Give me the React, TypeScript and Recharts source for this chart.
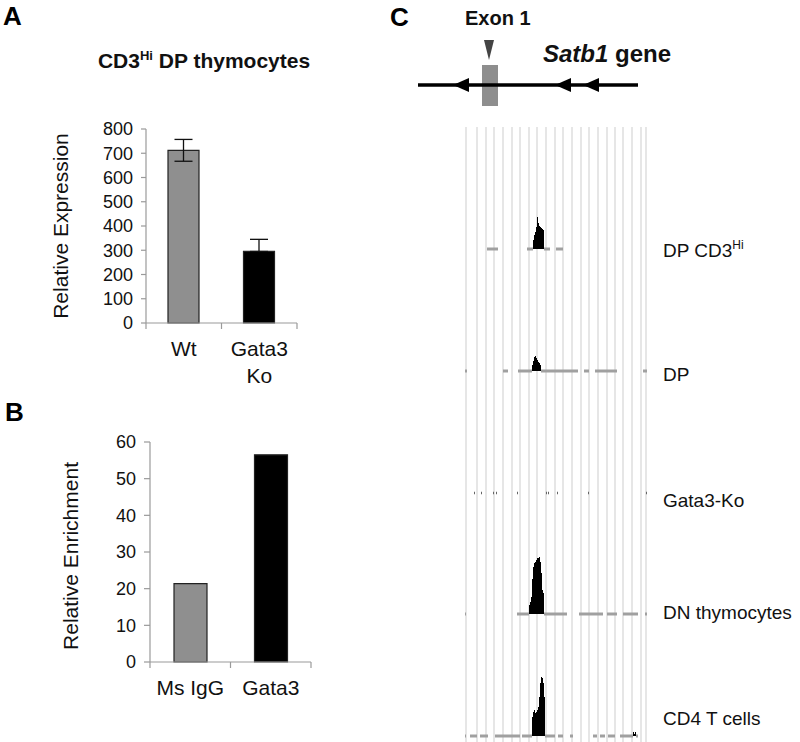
import {
  Area,
  Bar,
  BarChart,
  CartesianGrid,
  Cell,
  ComposedChart,
  ErrorBar,
  ReferenceArea,
  ReferenceLine,
  Scatter,
  XAxis,
  YAxis,
} from 'recharts'

const FONT = '"Liberation Sans", Arial, Helvetica, sans-serif'
const AXIS_GREY = '#9a9a9a'
const TEXT = '#111'

// Panel A: Satb1 expression in CD3hi DP thymocytes
const exprGroups = ['Wt', 'Gata3\nKo']
const exprValues = [712, 295]
const exprErrLow = [45, 0]
const exprErrHigh = [45, 50]
const exprTicks = [0, 100, 200, 300, 400, 500, 600, 700, 800]

// Panel B: Gata3 ChIP enrichment
const chipGroups = ['Ms IgG', 'Gata3']
const chipValues = [21.4, 56.5]
const chipTicks = [0, 10, 20, 30, 40, 50, 60]

const groupFills = ['#8f8f8f', '#000000']
// bars sit in the middle of each slot, tick marks go on the slot edges
const slotTicks = [0, 0.5, 1, 1.5, 2]

// Panel C: gene model (positions in the same units as the tracks)
const geneSpan = [-47, 173]
const exonSpan = [17, 33]
const exonMarker = [{ x: 24, y: 60 }]
const strandArrows = [
  { x: -12, y: 25 },
  { x: 90, y: 25 },
  { x: 118, y: 25 },
]

// Panel C: ChIP-seq tracks
const trackNames = ['DP CD3', 'DP', 'Gata3-Ko', 'DN thymocytes', 'CD4 T cells']
const trackSup = ['Hi', '', '', '', '']
const stripes = [1, 12, 21, 29, 38, 47, 55, 64, 72, 81, 90, 98, 107, 116, 124, 133, 142, 150, 158, 167, 176, 181]

const dpHiPeak = [[68, 9], [69, 14], [70, 17], [71, 22], [72, 32], [73, 26], [74, 23], [75, 22], [76, 21], [77, 20], [78, 19], [79, 0]]
const dpPeak = [[67, 6], [68, 10], [69, 14], [70, 15], [71, 13], [72, 11], [73, 9], [74, 8], [75, 6], [76, 0]]
const koPeak = [[0, 0], [182, 0]]
const dnPeak = [[64, 9], [65, 12], [66, 17], [67, 35], [68, 47], [69, 51], [70, 52], [71, 54], [72, 56], [73, 56], [74, 57], [75, 52], [76, 41], [77, 24], [78, 21], [79, 0]]
const cd4Peak = [[67, 19], [68, 24], [69, 26], [70, 23], [71, 24], [72, 26], [73, 29], [74, 39], [75, 53], [76, 59], [77, 58], [78, 53], [79, 39], [80, 0], [168, 4], [169, 2], [170, 4], [171, 0]]

const dpHiReads = [[22, 33], [62, 68], [79, 85], [91, 98]]
const dpReads = [[0, 2], [38, 43], [53, 67], [76, 113], [119, 124], [130, 152], [178, 182]]
const koReads = [[9, 10], [16, 17], [28, 29], [31, 32], [52, 53], [81, 82], [83, 84], [92, 93], [123, 124], [181, 182]]
const dnReads = [[0, 1], [52, 64], [79, 102], [114, 138], [142, 152], [158, 173], [180, 182]]
const cd4Reads = [[0, 1], [5, 12], [15, 23], [30, 55], [57, 67], [80, 90], [93, 98], [105, 108], [128, 132], [135, 140], [143, 150], [155, 168], [171, 173]]

const trackPeaks = [dpHiPeak, dpPeak, koPeak, dnPeak, cd4Peak]
const trackReads = [dpHiReads, dpReads, koReads, dnReads, cd4Reads]
const trackBaselines = [249, 371, 493, 614, 736]
const trackLabelY = [257, 381, 507, 619, 725]

const exprData = exprGroups.map((g, i) => ({
  pos: i + 0.5,
  name: g,
  value: exprValues[i],
  err: [exprErrLow[i], exprErrHigh[i]],
}))
const chipData = chipGroups.map((g, i) => ({ pos: i + 0.5, name: g, value: chipValues[i] }))

function slotTick(groups: string[]) {
  return (props: any) => {
    const { x, y, payload } = props
    const v = payload.value as number
    if (Number.isInteger(v)) {
      return <line x1={x} x2={x} y1={y} y2={y + 6} stroke={AXIS_GREY} strokeWidth={1.2} />
    }
    const lines = groups[Math.floor(v)].split('\n')
    return (
      <text x={x} y={y + 33} textAnchor="middle" fontSize={21} fill={TEXT} fontFamily={FONT}>
        {lines.map((l, i) => (
          <tspan key={i} x={x} dy={i === 0 ? 0 : 27}>
            {l}
          </tspan>
        ))}
      </text>
    )
  }
}

const axisLine = { stroke: AXIS_GREY, strokeWidth: 1.2 }
const tickText = { fontSize: 18, fill: TEXT, fontFamily: FONT }

function LeftArrow(props: any) {
  const { cx, cy } = props
  return <polygon points={`${cx},${cy} ${cx + 16},${cy - 7} ${cx + 16},${cy + 7}`} fill="#000" />
}

function DownMarker(props: any) {
  const { cx, cy } = props
  return <polygon points={`${cx - 5},${cy - 10} ${cx + 5},${cy - 10} ${cx},${cy + 10}`} fill="#444" />
}

function Track({ index }: { index: number }) {
  const data = trackPeaks[index].map(([pos, cov]) => ({ pos, cov }))
  const isDots = index === 2
  return (
    <div style={{ position: 'absolute', left: 465, top: trackBaselines[index] - 122 }}>
      <ComposedChart width={182} height={125} data={data} margin={{ top: 0, right: 0, bottom: 3, left: 0 }}>
        <XAxis dataKey="pos" type="number" domain={[0, 182]} hide allowDataOverflow />
        <YAxis type="number" domain={[0, 122]} hide />
        {trackReads[index].map(([s, e], i) => (
          <ReferenceLine
            key={i}
            segment={[
              { x: s, y: 0 },
              { x: e, y: 0 },
            ]}
            stroke={isDots ? '#666' : '#a0a0a0'}
            strokeWidth={isDots ? 2.5 : 3}
          />
        ))}
        <Area
          type="stepAfter"
          dataKey="cov"
          fill="#000"
          fillOpacity={1}
          stroke="none"
          dot={false}
          activeDot={false}
          isAnimationActive={false}
        />
      </ComposedChart>
    </div>
  )
}

export default function App() {
  return (
    <div
      style={{
        position: 'absolute',
        left: 0,
        top: 0,
        width: 800,
        height: 742,
        background: '#fff',
        fontFamily: FONT,
        overflow: 'hidden',
      }}
    >
      {/* Panel A */}
      <div style={{ position: 'absolute', left: 0, top: 0 }}>
        <BarChart width={330} height={400} data={exprData} margin={{ top: 129, right: 33, bottom: 17, left: 0 }}>
          <XAxis
            dataKey="pos"
            type="number"
            domain={[0, 2]}
            ticks={slotTicks}
            interval={0}
            tick={slotTick(exprGroups)}
            tickLine={false}
            tickSize={0}
            tickMargin={0}
            axisLine={axisLine}
            height={60}
          />
          <YAxis
            type="number"
            domain={[0, 800]}
            ticks={exprTicks}
            interval={0}
            width={146}
            tickSize={5}
            tickMargin={8}
            tick={tickText}
            axisLine={axisLine}
            tickLine={axisLine}
            label={{
              value: 'Relative Expression',
              angle: -90,
              position: 'center',
              dx: -12,
              fontSize: 21,
              fill: TEXT,
              fontFamily: FONT,
            }}
          />
          <Bar dataKey="value" barSize={31} stroke="#222" strokeWidth={1.2} isAnimationActive={false}>
            {exprData.map((d, i) => (
              <Cell key={d.name} fill={groupFills[i]} />
            ))}
            <ErrorBar dataKey="err" width={9} stroke="#111" strokeWidth={1.3} isAnimationActive={false} />
          </Bar>
        </BarChart>
      </div>

      {/* Panel B */}
      <div style={{ position: 'absolute', left: 0, top: 380 }}>
        <BarChart width={330} height={360} data={chipData} margin={{ top: 62, right: 19, bottom: 18, left: 0 }}>
          <XAxis
            dataKey="pos"
            type="number"
            domain={[0, 2]}
            ticks={slotTicks}
            interval={0}
            tick={slotTick(chipGroups)}
            tickLine={false}
            tickSize={0}
            tickMargin={0}
            axisLine={axisLine}
            height={60}
          />
          <YAxis
            type="number"
            domain={[0, 60]}
            ticks={chipTicks}
            interval={0}
            width={150}
            tickSize={6}
            tickMargin={8}
            tick={tickText}
            axisLine={axisLine}
            tickLine={axisLine}
            label={{
              value: 'Relative Enrichment',
              angle: -90,
              position: 'center',
              dx: -4,
              dy: 4,
              fontSize: 21,
              fill: TEXT,
              fontFamily: FONT,
            }}
          />
          <Bar dataKey="value" barSize={33} stroke="#222" strokeWidth={1.2} isAnimationActive={false}>
            {chipData.map((d, i) => (
              <Cell key={d.name} fill={groupFills[i]} />
            ))}
          </Bar>
        </BarChart>
      </div>

      {/* Panel C: gene model */}
      <div style={{ position: 'absolute', left: 400, top: 30 }}>
        <ComposedChart width={300} height={80} margin={{ top: 0, right: 0, bottom: 0, left: 0 }}>
          <XAxis dataKey="x" type="number" domain={[-65, 235]} hide allowDataOverflow />
          <YAxis dataKey="y" type="number" domain={[0, 80]} hide />
          <ReferenceArea x1={exonSpan[0]} x2={exonSpan[1]} y1={4} y2={45} fill="#8e8e8e" fillOpacity={1} stroke="none" />
          <ReferenceLine
            segment={[
              { x: geneSpan[0], y: 25 },
              { x: geneSpan[1], y: 25 },
            ]}
            stroke="#000"
            strokeWidth={3.5}
          />
          <Scatter data={strandArrows} shape={<LeftArrow />} isAnimationActive={false} />
          <Scatter data={exonMarker} shape={<DownMarker />} isAnimationActive={false} />
        </ComposedChart>
      </div>

      {/* Panel C: track background stripes */}
      <div style={{ position: 'absolute', left: 465, top: 127 }}>
        <ComposedChart
          width={182}
          height={615}
          data={stripes.map((s) => ({ pos: s }))}
          margin={{ top: 0, right: 0, bottom: 0, left: 0 }}
        >
          <XAxis dataKey="pos" type="number" domain={[0, 182]} ticks={stripes} interval={0} hide />
          <YAxis type="number" domain={[0, 1]} hide />
          <CartesianGrid horizontal={false} vertical stroke="#e6e6e6" strokeWidth={2} />
        </ComposedChart>
      </div>

      {trackNames.map((_, i) => (
        <Track key={i} index={i} />
      ))}

      {/* Labels */}
      <svg
        width={800}
        height={742}
        style={{ position: 'absolute', left: 0, top: 0, pointerEvents: 'none' }}
        fontFamily={FONT}
      >
        <text x={3} y={25} fontSize={26} fontWeight="bold" fill="#000">A</text>
        <text x={5} y={421} fontSize={26} fontWeight="bold" fill="#000">B</text>
        <text x={390} y={26} fontSize={26} fontWeight="bold" fill="#000">C</text>

        <text x={204} y={68} fontSize={21} fontWeight="bold" fill={TEXT} textAnchor="middle">
          CD3
          <tspan fontSize={13} dy={-8}>Hi</tspan>
          <tspan dy={8}> DP thymocytes</tspan>
        </text>

        <text x={465} y={25} fontSize={20} fontWeight="bold" fill={TEXT}>Exon 1</text>
        <text x={543} y={62} fontSize={24} fontWeight="bold" fill={TEXT}>
          <tspan fontStyle="italic">Satb1</tspan> gene
        </text>

        {trackNames.map((name, i) => (
          <text key={name} x={663} y={trackLabelY[i]} fontSize={19} fill={TEXT}>
            {name}
            {trackSup[i] && (
              <tspan fontSize={12} dy={-8}>
                {trackSup[i]}
              </tspan>
            )}
          </text>
        ))}
      </svg>
    </div>
  )
}
